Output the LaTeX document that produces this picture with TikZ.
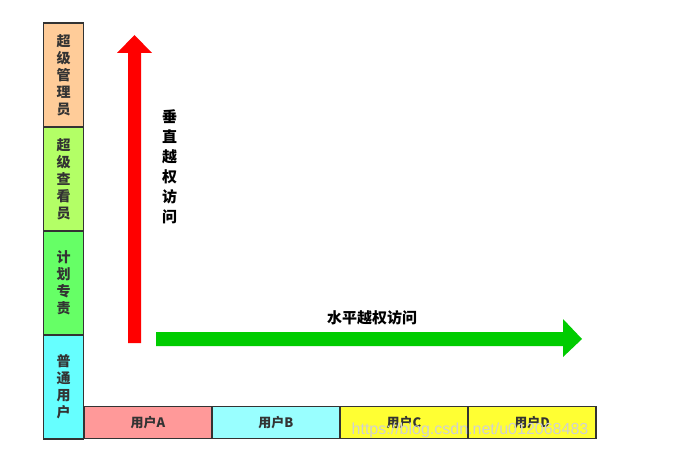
\documentclass[tikz,border=0pt]{standalone}
\usepackage{fontspec}
\newfontfamily\cjk{Noto Sans CJK SC}
\setsansfont{Liberation Sans}
\definecolor{bord}{HTML}{333333}
\definecolor{cOrange}{HTML}{FFCC99}
\definecolor{cLime}{HTML}{B3FF66}
\definecolor{cGreen}{HTML}{66FF66}
\definecolor{cCyan}{HTML}{66FFFF}
\definecolor{cPink}{HTML}{FF9999}
\definecolor{cLCyan}{HTML}{99FFFF}
\definecolor{cYellow}{HTML}{FFFF33}
\definecolor{cRed}{HTML}{FF0000}
\definecolor{cArrowGreen}{HTML}{00CC00}
\definecolor{txt}{HTML}{333333}
\tikzset{
  rolebox/.style={draw=bord, line width=1.6pt, minimum width=40pt, minimum height=104pt, inner sep=0pt,
    align=center, text=txt, font=\cjk\bfseries\fontsize{14}{17}\selectfont},
  userbox/.style={draw=bord, line width=1.6pt, minimum width=128pt, minimum height=32pt, inner sep=0pt,
    text=txt, font=\cjk\bfseries\fontsize{13}{15}\selectfont},
  label/.style={text=black, font=\cjk\bfseries\fontsize{15}{20}\selectfont, align=center, inner sep=0pt}
}
\begin{document}
\begin{tikzpicture}[x=1pt,y=-1pt]
\useasboundingbox[fill=white] (0,0) rectangle (690,460);
% left column
\node[rolebox, fill=cOrange] (r1) at (63.5,75) {超\\级\\管\\理\\员};
\node[rolebox, fill=cLime] (r2) at (63.5,179) {超\\级\\查\\看\\员};
\node[rolebox, fill=cGreen] (r3) at (63.5,283) {计\\划\\专\\责};
\node[rolebox, fill=cCyan] (r4) at (63.5,387) {普\\通\\用\\户};
% bottom row
\node[userbox, fill=cPink] (u1) at (148,422.5) {用户A};
\node[userbox, fill=cLCyan] (u2) at (276,422.5) {用户B};
\node[userbox, fill=cYellow] (u3) at (404,422.5) {用户C};
\node[userbox, fill=cYellow] (u4) at (532,422.5) {用户D};
% red vertical arrow
\fill[cRed] (128,343) -- (128,53) -- (117,53) -- (134.5,35) -- (152,53) -- (141,53) -- (141,343) -- cycle;
% green horizontal arrow
\fill[cArrowGreen] (156,332) -- (563,332) -- (563,319) -- (582,339) -- (563,357) -- (563,346) -- (156,346) -- cycle;
% labels
\node[label] (lv) at (169.5,167) {垂\\直\\越\\权\\访\\问};
\node[label] (lh) at (372,318) {水平越权访问};
% watermark
\node[text=white!82!black, font=\sffamily\fontsize{16}{16}\selectfont, inner sep=0pt] (wm) at (470,430.5)
  {https://blog.csdn.net/u012068483};
\end{tikzpicture}
\end{document}
